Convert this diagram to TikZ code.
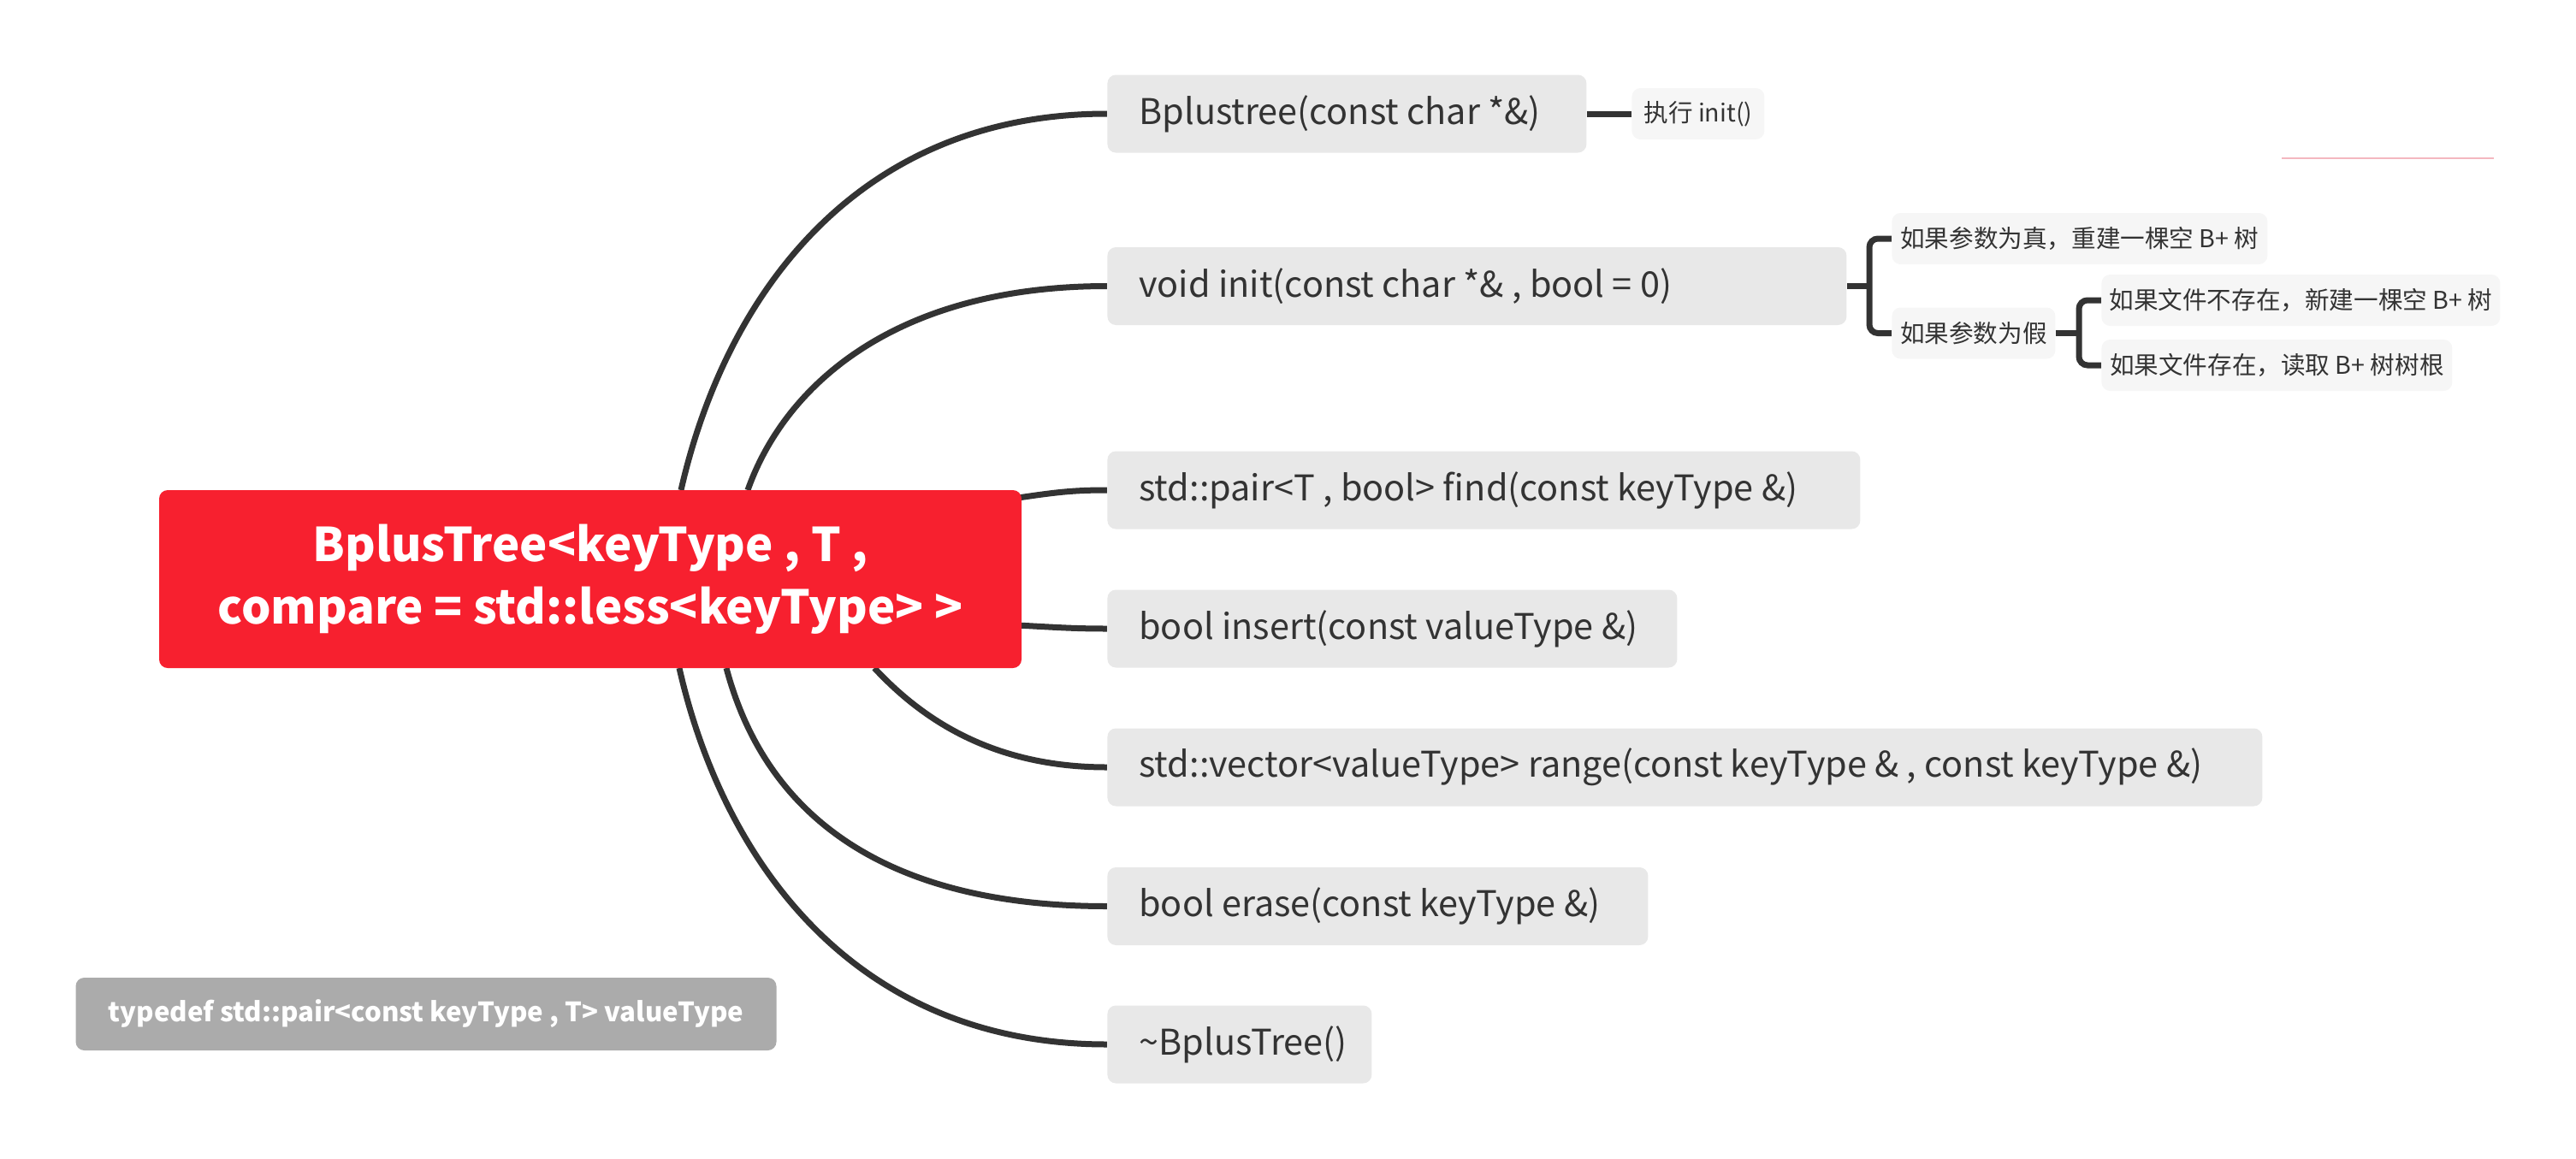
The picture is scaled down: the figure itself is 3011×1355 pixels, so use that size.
\documentclass[tikz,border=0pt]{standalone}
\usepackage{fontspec}
\setmainfont{Noto Sans CJK SC}
\definecolor{rootred}{RGB}{247,32,47}
\definecolor{boxgray}{RGB}{232,232,232}
\definecolor{smallgray}{RGB}{246,246,246}
\definecolor{tdgray}{RGB}{171,171,171}
\definecolor{txt}{RGB}{51,51,51}
\definecolor{lnk}{RGB}{51,51,51}
\definecolor{pinkl}{RGB}{244,184,192}
\pgfdeclarelayer{bg}
\pgfsetlayers{bg,main}
\newcommand{\lbox}[2]{\makebox[#1][l]{#2}}
\begin{document}
\begin{tikzpicture}[x=0.5pt,y=-0.5pt,
  rootbox/.style={fill=rootred, text=white, rounded corners=5pt, align=center,
    minimum width=504pt, minimum height=104pt, inner sep=0pt,
    font=\fontsize{27.2pt}{36.5pt}\selectfont\bfseries},
  childbox/.style={fill=boxgray, text=txt, rounded corners=5pt, anchor=west,
    minimum height=45.5pt, inner xsep=18.5pt, inner ysep=0pt,
    font=\fontsize{20.7pt}{24pt}\selectfont},
  smallbox/.style={fill=smallgray, text=txt, rounded corners=5pt, anchor=west,
    minimum height=30pt, inner sep=0pt,
    font=\fontsize{14.3pt}{17pt}\selectfont},
  tdbox/.style={fill=tdgray, text=white, rounded corners=5pt,
    minimum height=42.5pt, inner sep=0pt,
    font=\fontsize{15.6pt}{19pt}\selectfont\bfseries},
  conn/.style={draw=lnk, line width=3.5pt},
  brace/.style={draw=lnk, line width=3.5pt, rounded corners=5pt}
]
\useasboundingbox (0,0) rectangle (3011,1355);

% root
\node[rootbox] (root) at (690,677) {BplusTree<keyType , T ,\\compare = std::less<keyType> >};

% children
\node[childbox] (b1) at (1294,133) {\lbox{243pt}{Bplustree(const char *\&)}};
\node[childbox] (b2) at (1294,334.5) {\lbox{395pt}{void init(const char *\& , bool = 0)}};
\node[childbox] (b3) at (1294,573) {\lbox{403pt}{std::pair<T , bool> find(const keyType \&)}};
\node[childbox] (b4) at (1294,735) {\lbox{296pt}{bool insert(const valueType \&)}};
\node[childbox] (b5) at (1294,897) {\lbox{638pt}{std::vector<valueType> range(const keyType \& , const keyType \&)}};
\node[childbox] (b6) at (1294,1059.5) {\lbox{279pt}{bool erase(const keyType \&)}};
\node[childbox] (b7) at (1294,1221) {\lbox{117.5pt}{\textasciitilde BplusTree()}};

% small nodes
\node[smallbox, minimum width=77.5pt] (s1) at (1907,133) {执行 init()};
\node[smallbox, minimum width=219.5pt] (c1) at (2211,279) {如果参数为真，重建一棵空 B+ 树};
\node[smallbox, minimum width=95.5pt] (c2) at (2211,389.5) {如果参数为假};
\node[smallbox, minimum width=233pt] (g1) at (2456,351) {如果文件不存在，新建一棵空 B+ 树};
\node[smallbox, minimum width=205pt] (g2) at (2456,427) {如果文件存在，读取 B+ 树树根};

% typedef
\node[tdbox, minimum width=409.5pt] (td) at (498,1185.5) {typedef std::pair<const keyType , T> valueType};

% junction coordinates
\coordinate (s1a) at (796,573);
\coordinate (s2a) at (874,573);
\coordinate (s3a) at (1170,585);
\coordinate (s4a) at (1170,730);
\coordinate (s5a) at (1022,781);
\coordinate (s6a) at (849,781);
\coordinate (s7a) at (794,781);
\coordinate (j1) at (2185,334.5);
\coordinate (j2) at (2430,389.5);

\begin{pgfonlayer}{bg}
\draw[conn] (s1a) .. controls (846,353) and (995,133) .. (b1.west);
\draw[conn] (s2a) .. controls (916,454) and (1042,334.5) .. (b2.west);
\draw[conn] (s3a) .. controls (1230,576) and (1250,573) .. (b3.west);
\draw[conn] (s4a) .. controls (1230,733) and (1250,735) .. (b4.west);
\draw[conn] (s5a) .. controls (1076,839) and (1158,897) .. (b5.west);
\draw[conn] (s6a) .. controls (893.5,948) and (1027,1059.5) .. (b6.west);
\draw[conn] (s7a) .. controls (844,1001) and (994,1221) .. (b7.west);
\draw[conn] (b1.east) -- (s1.west);
\draw[conn] (b2.east) -- (j1);
\draw[brace] (c1.west) -| (j1) |- (c2.west);
\draw[conn] (c2.east) -- (j2);
\draw[brace] (g1.west) -| (j2) |- (g2.west);
\end{pgfonlayer}

% faint line
\draw[pinkl, line width=1pt] (2667,185) -- (2915,185);
\end{tikzpicture}
\end{document}
